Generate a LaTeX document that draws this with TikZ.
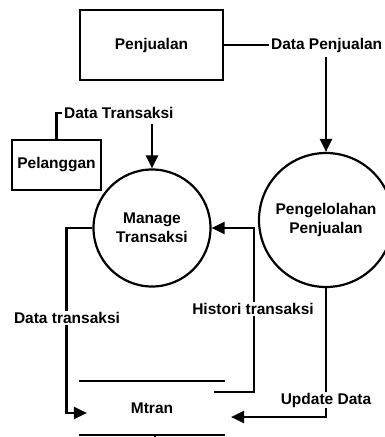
\documentclass[tikz,border=0pt]{standalone}
\usepackage{fontspec}
\setmainfont{Liberation Sans}
\usetikzlibrary{arrows.meta,positioning}

\begin{document}
\begin{tikzpicture}[x=1pt,y=-1pt,line width=2.2pt,
    font=\fontsize{15.5}{19}\selectfont\bfseries,
    entity/.style={draw,rectangle,inner sep=0pt},
    proc/.style={draw,circle,inner sep=0pt,align=center},
    lbl/.style={fill=white,inner sep=1pt},
    flow/.style={-{Triangle[length=13pt,width=12pt]}}]
    \clip (0,0) rectangle (385,437);
    % entitas luar
    \node[entity,minimum width=143pt,minimum height=70pt] (penjualan) at (151.5,45) {Penjualan};
    \node[entity,minimum width=89pt,minimum height=50pt] (pelanggan) at (56.5,165) {Pelanggan};
    % proses
    \node[proc,minimum size=117pt] (manage) at (152,228) {Manage\\Transaksi};
    \node[proc,minimum size=134pt] (olah) at (326,220) {Pengelolahan\\Penjualan};
    % data store
    \node[minimum width=144pt,minimum height=52pt,inner sep=0pt] (mtran) at (152,408) {Mtran};
    \draw (mtran.north west) -- (mtran.north east);
    \draw (mtran.south west) -- (mtran.south east);
    \draw ([xshift=3pt]mtran.south) -- ++(0,3);

    % aliran data
    \node[lbl,anchor=west] (dpenj) at (269,45) {Data Penjualan};
    \draw (penjualan.east) -- (dpenj.west);
    \draw[flow] ([yshift=-3pt]dpenj.south -| olah) -- (olah.north);

    \node[lbl,anchor=west] (dtrans) at (62,113) {Data Transaksi};
    \draw (pelanggan.north) |- (dtrans.west);
    \draw[flow] ([yshift=-3pt]dtrans.south -| manage) -- (manage.north);

    \draw[flow] (manage.west) -- ++(-26,0) |- ([xshift=8pt,yshift=-5pt]mtran.west);
    \coordinate (hist) at ([xshift=-11pt,yshift=-11pt]mtran.north east);
    \draw[flow] (hist) -- ++(40,0) |- (manage.east);
    \draw[flow] (olah.south) |- ([xshift=6pt,yshift=-9pt]mtran.east);

    % label di atas garis
    \node[lbl] (dtl) at (67,318) {Data transaksi};
    \node[lbl] (hl) at (253,309) {Histori transaksi};
    \node[lbl] (ul) at (326,400) {Update Data};
\end{tikzpicture}
\end{document}
